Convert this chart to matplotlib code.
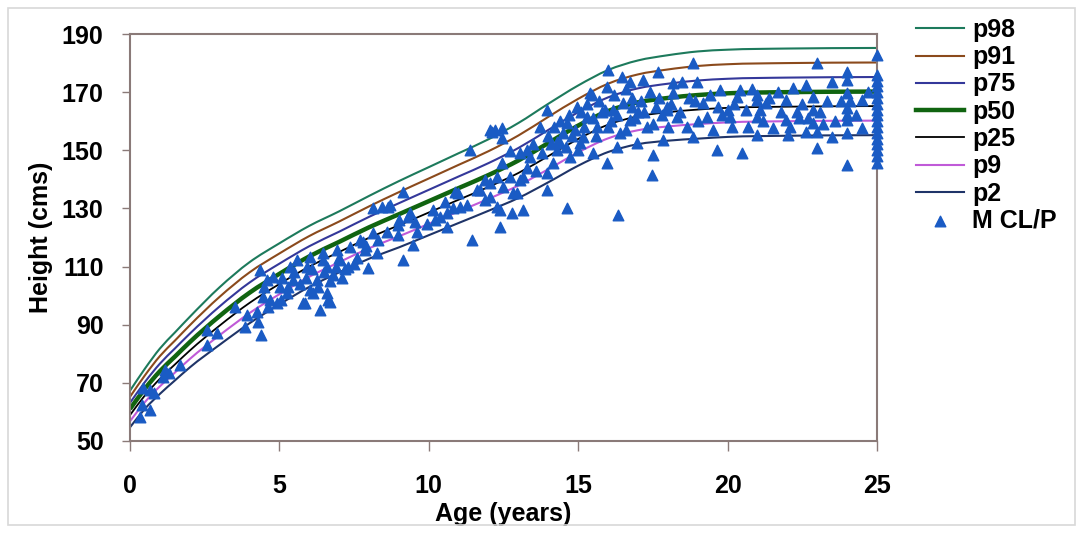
import numpy as np
import matplotlib.pyplot as plt
from matplotlib.patches import Rectangle, PathPatch
from matplotlib.path import Path
from matplotlib.lines import Line2D

plt.rcParams['font.family'] = ['Liberation Sans', 'DejaVu Sans']
plt.rcParams['font.weight'] = 'bold'

# reference centile curves (age in years, height in cm)
ages = [0, 0.5, 1, 1.5, 2, 3, 4, 5, 6, 7, 8, 9, 10, 11, 12, 13, 14, 15, 16, 17, 18, 19, 20, 22, 25]
p98 = [67.3, 74.9, 81.8, 87.3, 92.7, 102.9, 111.5, 118.0, 124.0, 129.0, 134.3, 139.4, 144.2, 149.0, 153.8,
       159.4, 166.0, 172.3, 177.6, 180.9, 182.7, 184.0, 184.6, 185.0, 185.2]
p91 = [65.2, 72.6, 79.2, 84.5, 89.8, 99.6, 108.0, 114.5, 120.5, 125.5, 130.7, 135.6, 140.3, 145.0, 149.7,
       155.1, 161.5, 167.7, 172.9, 176.1, 177.8, 179.0, 179.6, 180.0, 180.2]
p75 = [63.1, 70.3, 76.6, 81.8, 86.9, 96.3, 104.5, 111.0, 117.0, 122.0, 127.1, 131.8, 136.4, 141.0, 145.6,
       150.8, 157.0, 163.1, 168.2, 171.3, 172.9, 174.0, 174.6, 175.0, 175.2]
p50 = [61.0, 68.0, 74.0, 79.0, 84.0, 93.0, 101.0, 107.5, 113.5, 118.5, 123.5, 128.0, 132.5, 137.0, 141.5,
       146.5, 152.5, 158.5, 163.5, 166.5, 168.0, 169.0, 169.6, 170.0, 170.2]
p25 = [58.9, 65.7, 71.4, 76.3, 81.1, 89.7, 97.5, 104.0, 110.0, 115.0, 119.9, 124.2, 128.6, 133.0, 137.4,
       142.2, 148.0, 153.9, 158.8, 161.7, 163.1, 164.0, 164.6, 165.0, 165.2]
p9 = [56.8, 63.4, 68.8, 73.5, 78.2, 86.4, 94.0, 100.5, 106.5, 111.5, 116.3, 120.4, 124.7, 129.0, 133.3,
      137.9, 143.5, 149.3, 154.1, 156.9, 158.2, 159.0, 159.6, 160.0, 160.2]
p2 = [54.7, 61.1, 66.2, 70.8, 75.3, 83.1, 90.5, 97.0, 103.0, 108.0, 112.7, 116.6, 120.8, 125.0, 129.2,
      133.6, 139.0, 144.7, 149.4, 152.1, 153.3, 154.0, 154.6, 155.0, 155.2]

# measured patients (M CL/P)
age_a = [0.33, 0.39, 0.45, 0.67, 0.67, 0.8, 1.11, 1.17, 1.3, 1.67, 2.57, 2.57, 2.9, 3.5]
ht_a = [58.4, 62.4, 68.1, 67.5, 60.7, 66.5, 72.1, 74.4, 73.5, 76.1, 88.2, 83.0, 87.0, 96.2]
age_b = [3.85, 3.9, 4.24, 4.29, 4.35, 4.4, 4.46, 4.5, 4.57, 4.63, 4.69, 4.8, 4.91, 5.02, 5.07, 5.24, 5.35,
         5.47, 5.58, 5.8, 5.86, 5.91, 6.02, 6.02, 6.13, 6.25, 6.36, 6.46, 6.47, 6.58, 6.58, 6.63, 6.69, 6.8,
         6.92, 7.03, 7.1, 7.2, 7.36, 7.5, 7.7, 7.81, 7.87, 7.98]
ht_b = [89.3, 93.5, 94.5, 91.0, 108.8, 86.5, 99.6, 103.0, 105.4, 96.2, 98.5, 106.5, 97.4, 103.1, 98.5, 100.8,
        110.0, 105.4, 112.3, 97.4, 97.5, 110.0, 101.9, 113.4, 100.9, 105.4, 95.0, 112.3, 114.5, 110.0, 100.8,
        98.5, 97.9, 107.0, 115.7, 112.3, 106.0, 109.0, 116.9, 111.0, 119.1, 118.6, 115.7, 109.4]
age_c = [8.14, 8.14, 8.26, 8.42, 8.65, 8.7, 8.98, 8.98, 9.15, 9.15, 9.31, 9.37, 9.48, 9.54, 9.93, 10.15, 10.37,
         10.54, 10.6, 10.6, 10.88, 10.99, 11.04, 11.27, 11.38, 11.44, 11.6, 11.71, 11.88, 11.88, 12.05, 12.05,
         12.05, 12.1, 12.22, 12.27, 12.27, 12.38, 12.38, 12.44, 12.44, 12.44, 12.49, 12.72, 12.72, 12.77,
         12.83, 12.94]
ht_c = [130.0, 121.4, 114.5, 130.6, 130.6, 131.2, 124.3, 120.9, 135.8, 112.3, 127.2, 128.3, 117.4, 125.4,
        124.8, 129.5, 127.2, 132.3, 123.7, 128.3, 135.8, 135.2, 130.6, 131.2, 150.1, 119.1, 136.3, 136.3,
        132.9, 139.8, 138.6, 134.0, 157.0, 156.4, 157.0, 130.6, 140.9, 129.5, 123.7, 157.6, 154.1, 145.5,
        137.5, 140.9, 149.6, 128.3, 135.2, 135.2]
age_d = [13.05, 13.05, 13.16, 13.16, 13.28, 13.39, 13.6, 13.72, 13.94, 13.94, 13.94, 14.1, 14.17, 14.28,
         14.39, 14.5, 14.61, 14.61, 14.73, 14.8, 14.95, 15.06, 15.17, 15.28, 15.4, 15.45, 15.51, 15.62, 15.8,
         15.95, 15.95, 16.0, 16.1, 16.18, 16.29, 16.34, 16.45, 16.51, 16.6, 16.73, 16.73, 16.79, 16.96, 17.0,
         17.18, 17.29, 17.46, 17.51, 17.6, 17.68, 17.85, 17.96, 17.96]
ht_d = [149.0, 139.8, 140.9, 129.5, 150.1, 147.8, 143.0, 158.1, 163.9, 136.3, 142.1, 152.0, 145.5, 150.1,
        152.5, 156.0, 159.3, 130.0, 147.8, 155.0, 165.0, 152.5, 154.7, 161.6, 169.6, 169.0, 149.0, 158.1,
        163.0, 171.8, 145.5, 177.6, 160.0, 163.9, 151.3, 127.7, 175.3, 166.2, 157.0, 160.4, 173.6, 168.0,
        152.5, 163.0, 174.2, 158.1, 141.5, 148.4, 165.0, 177.0, 153.5, 163.9, 165.0]
age_e = [18.18, 18.18, 18.3, 18.46, 18.63, 18.85, 18.85, 18.96, 19.19, 19.3, 19.63, 19.69, 19.75, 20.08,
         20.14, 20.3, 20.4, 20.47, 20.69, 20.97, 20.97, 20.97, 21.08, 21.3, 21.53, 21.7, 21.97, 21.97, 22.03,
         22.2, 22.31, 22.64, 22.64, 22.87, 22.87, 22.87, 22.98, 22.98, 22.98, 23.31, 23.48, 23.48, 23.81,
         23.98, 23.98, 23.98, 23.98, 23.98, 23.98, 23.98, 24.49, 24.49]
ht_e = [173.0, 169.6, 161.6, 173.6, 158.1, 179.9, 154.7, 173.6, 166.2, 161.6, 150.1, 165.0, 170.7, 161.6,
        158.1, 168.5, 170.7, 149.0, 158.1, 167.3, 161.6, 155.3, 163.9, 166.2, 157.6, 170.1, 167.3, 160.4,
        155.3, 171.3, 163.3, 172.5, 156.4, 168.5, 163.9, 159.3, 179.9, 156.4, 150.7, 166.8, 173.6, 154.7,
        166.8, 177.0, 174.2, 169.6, 164.5, 160.4, 155.8, 145.0, 167.3, 157.6]
age_f = [25] * 17
ht_f = [145.5, 148, 150, 152, 154, 156, 158, 160, 162, 164, 166, 168, 170, 172, 174, 176, 182.8]
age_g = [13.3, 13.5, 13.8, 14.0, 14.2, 14.3, 14.4, 14.6, 14.7, 14.9, 15.0, 15.1, 15.2, 15.3, 15.5, 15.6,
         15.7, 15.9, 16.0, 16.2, 16.3, 16.4, 16.6, 16.8, 16.9, 17.1, 17.2, 17.4, 17.5, 17.7, 17.8, 18.0]
ht_g = [144, 152, 149, 155, 158, 153, 160, 151, 162, 157, 150, 163, 158, 166, 161, 155, 167, 164, 158, 169,
        162, 156, 171, 165, 161, 167, 163, 170, 159, 168, 162, 158]
age_h = [18.1, 18.4, 18.7, 19.0, 19.4, 19.8, 20.2, 20.6, 21.2, 21.4, 21.8, 22.1, 22.5, 22.7, 23.1, 23.6,
         24.1, 24.3, 24.7, 19.5, 20.0, 21.0, 22.4, 23.2, 24.0, 18.9, 20.8]
ht_h = [166, 163, 168, 160, 169, 162, 166, 164, 160, 168, 163, 158, 166, 161, 163, 160, 167, 162, 170, 157,
        164, 169, 161, 159, 162, 167, 171]
age_i = [5.1, 5.3, 5.5, 5.7, 5.9, 6.1, 6.3, 6.5, 6.7, 6.9, 7.0, 7.3, 7.6, 7.9, 8.3, 8.6, 9.0, 9.6, 10.2, 10.8]
ht_i = [106, 103, 108, 104, 106, 109, 103, 108, 105, 110, 113, 110, 113, 117, 119, 122, 126, 122, 126, 130]

m_age = age_a + age_b + age_i + age_c + age_d + age_g + age_e + age_h + age_f
m_ht = ht_a + ht_b + ht_i + ht_c + ht_d + ht_g + ht_e + ht_h + ht_f


def smooth_path(x, y):
    # smoothed line through the points, like the spreadsheet's smoothed series
    x = np.asarray(x, float)
    y = np.asarray(y, float)
    h = np.diff(x)
    d = np.diff(y) / h
    m = np.empty_like(x)
    m[0], m[-1] = d[0], d[-1]
    m[1:-1] = (h[1:] * d[:-1] + h[:-1] * d[1:]) / (h[:-1] + h[1:])
    verts = [(x[0], y[0])]
    codes = [Path.MOVETO]
    for i in range(len(h)):
        verts += [(x[i] + h[i] / 3, y[i] + m[i] * h[i] / 3),
                  (x[i + 1] - h[i] / 3, y[i + 1] - m[i + 1] * h[i] / 3),
                  (x[i + 1], y[i + 1])]
        codes += [Path.CURVE4] * 3
    return Path(verts, codes)


fig = plt.figure(figsize=(10.78, 5.33), dpi=100)
ax = fig.add_axes([130 / 1078, 92 / 533, 747 / 1078, 407 / 533])

curves = [('p98', p98, '#1d7a5c', 1.5), ('p91', p91, '#8b4a1c', 1.5), ('p75', p75, '#34389a', 1.5),
          ('p50', p50, '#106410', 3.2), ('p25', p25, 'black', 1.3), ('p9', p9, '#c05ad8', 1.5),
          ('p2', p2, '#1f3468', 1.5)]
handles = []
for name, vals, col, lw in curves:
    ax.add_patch(PathPatch(smooth_path(ages, vals), fill=False, edgecolor=col, lw=lw))
    handles.append(Line2D([], [], color=col, lw=lw, label=name))

sc = ax.scatter(m_age, m_ht, marker='^', s=58, color='#1a5bc4', zorder=3, clip_on=False, label='M CL/P')
handles.append(sc)

ax.set_xlim(0, 25)
ax.set_ylim(50, 190)
ax.set_xticks([0, 5, 10, 15, 20, 25])
ax.set_yticks(range(50, 191, 20))
for s in ax.spines.values():
    s.set_color('#8a7a78')
    s.set_linewidth(1.5)
ax.tick_params(axis='both', colors='#8a7a78', labelcolor='black', labelsize=18, width=1)
ax.tick_params(axis='y', length=6, pad=13)
ax.tick_params(axis='x', length=7, pad=17)
for lab in ax.get_xticklabels() + ax.get_yticklabels():
    lab.set_fontweight('bold')

ax.set_xlabel('Age (years)', fontsize=18, fontweight='bold', labelpad=3)
ax.set_ylabel('Height (cms)', fontsize=18, fontweight='bold', labelpad=6)

fig.legend(handles=handles, loc='upper left', bbox_to_anchor=(916 / 1078, 1 - 18 / 533), frameon=False,
           fontsize=18, handlelength=1.9, handletextpad=0.35, labelspacing=0.13, borderpad=0,
           borderaxespad=0)

fig.patches.append(Rectangle((8 / 1078, 8 / 533), 1067 / 1078, 517 / 533, transform=fig.transFigure,
                             fill=False, edgecolor='#d8d8d8', lw=1.2))

fig.savefig('out.png', dpi=100)
